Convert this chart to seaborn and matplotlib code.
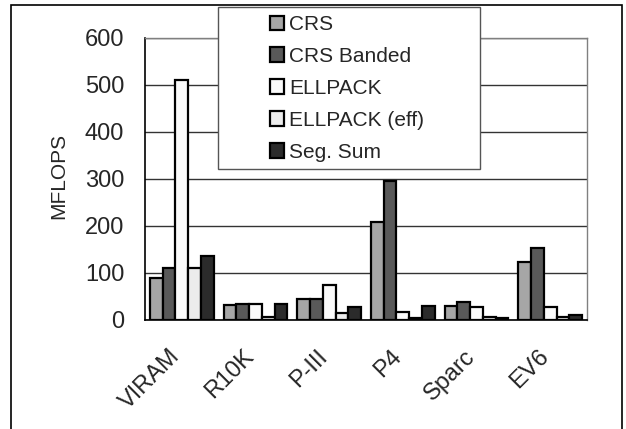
import matplotlib
matplotlib.use("Agg")
import matplotlib.pyplot as plt
import matplotlib.transforms as mtransforms
import seaborn as sns
import pandas as pd
import numpy as np
from matplotlib.patches import Rectangle

categories = ["VIRAM", "R10K", "P-III", "P4", "Sparc", "EV6"]
series = ["CRS", "CRS Banded", "ELLPACK", "ELLPACK (eff)", "Seg. Sum"]
crs = [90, 32, 44, 209, 30, 123]
crs_banded = [110, 34, 44, 296, 39, 154]
ellpack = [511, 33, 74, 16, 28, 28]
ellpack_eff = [111, 7, 14, 5, 7, 6]
seg_sum = [136, 33, 28, 30, 5, 11]
colors = ["#a6a6a6", "#595959", "#fafafa", "#ececec", "#2b2b2b"]
yticks = [0, 100, 200, 300, 400, 500, 600]

values = [crs, crs_banded, ellpack, ellpack_eff, seg_sum]
rows = []
for s, vals in zip(series, values):
    for c, v in zip(categories, vals):
        rows.append({"Machine": c, "Series": s, "MFLOPS": v})
df = pd.DataFrame(rows)

sns.set_style("white")
plt.rcParams['font.family'] = ['Liberation Sans', 'DejaVu Sans']

W, H = 626, 429
fig = plt.figure(figsize=(W/100, H/100), dpi=100)
ax = fig.add_axes([145/W, 1 - 320/H, (587-145)/W, (320-37.7)/H])

sns.barplot(data=df, x="Machine", y="MFLOPS", hue="Series", order=categories,
            hue_order=series, palette=colors, width=0.86, edgecolor="black",
            linewidth=1.6, saturation=1, ax=ax, legend=True, zorder=3)

ax.set_ylim(0, 600)
ax.set_xlim(-0.5, len(categories) - 0.5)
ax.set_yticks(yticks)
ax.set_yticklabels([str(t) for t in yticks], fontsize=17)
ax.yaxis.grid(True, color="#333333", linewidth=1, zorder=0)
ax.set_axisbelow(True)

ax.set_xticks(np.arange(len(categories)))
ax.set_xticklabels(categories, rotation=45, ha="right", va="center",
                   rotation_mode="anchor", fontsize=17)
ax.tick_params(axis="x", which="major", length=0, pad=24)
shift = mtransforms.ScaledTranslation(-5/100, 0, fig.dpi_scale_trans)
for lab in ax.get_xticklabels():
    lab.set_transform(lab.get_transform() + shift)
ax.set_xticks(np.arange(-0.5, len(categories)), minor=True)
ax.tick_params(axis="x", which="minor", length=7, width=1, color="black", direction="out")
ax.tick_params(axis="y", which="major", length=8, width=1, color="black", direction="out", pad=7)
ax.set_xlabel("")
ax.set_ylabel("MFLOPS", fontsize=15)
ax.yaxis.set_label_coords((68-145)/(587-145), (320-175.5)/(320-37.7))

for side in ["top", "right"]:
    ax.spines[side].set_color("#808080")
    ax.spines[side].set_linewidth(1)
for side in ["left", "bottom"]:
    ax.spines[side].set_color("black")
    ax.spines[side].set_linewidth(1.2)

# legend box (white, gray border) drawn above the plot
box = Rectangle((218/W, 1 - 169/H), (480-218)/W, (169-7)/H, transform=fig.transFigure,
                facecolor="white", edgecolor="#555555", linewidth=1, clip_on=False, zorder=4)
ax.add_patch(box)

leg = ax.legend(loc="upper left", bbox_to_anchor=(270/W, 1 - 15/H),
                bbox_transform=fig.transFigure, fontsize=15, frameon=False,
                borderpad=0, borderaxespad=0,
                handlelength=0.68, handleheight=0.68, handletextpad=0.25, labelspacing=0.62)
leg.set_zorder(5)
for h in leg.legend_handles:
    h.set_edgecolor("black")
    h.set_linewidth(1.6)

fig.patches.append(Rectangle((11/W, -0.05), (622-11)/W, 1.05 - 5/H,
                             transform=fig.transFigure, fill=False, edgecolor="black",
                             linewidth=1.2, zorder=10))

fig.savefig("out.png", dpi=100)
